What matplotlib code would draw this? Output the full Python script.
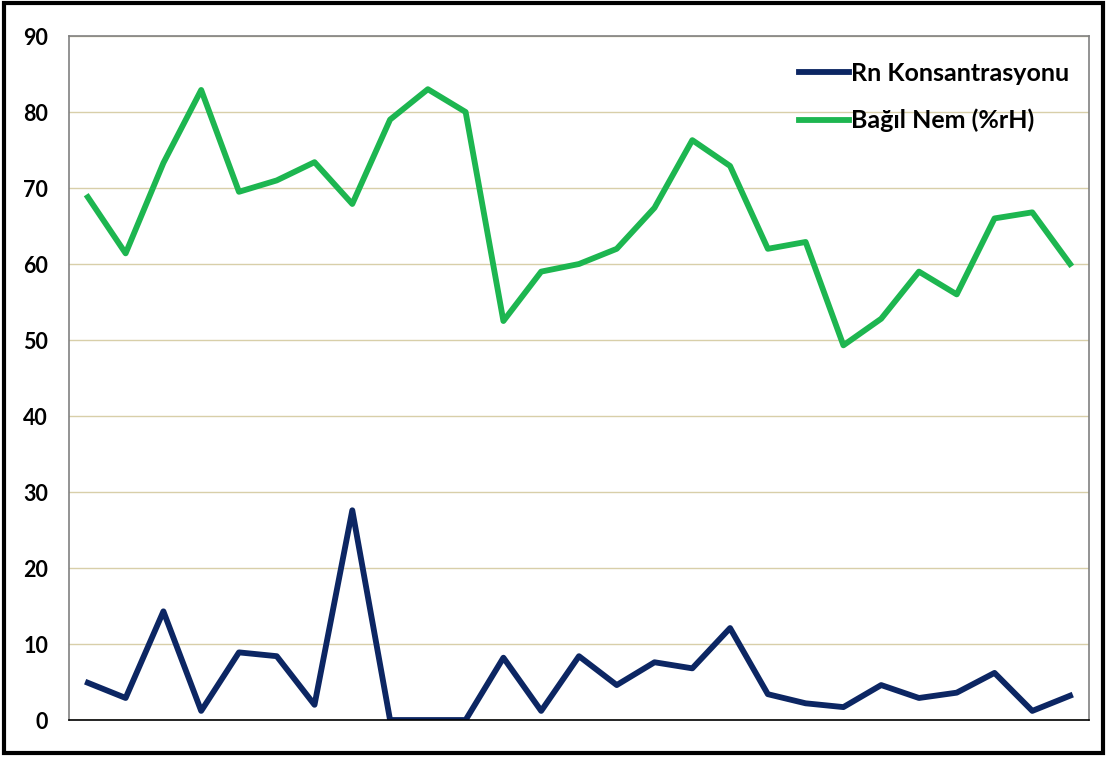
import numpy as np
from matplotlib import pyplot as plt
from matplotlib.patches import Rectangle

plt.rcParams['font.family'] = ['Lato', 'DejaVu Sans']

x = np.arange(27)
rn = [4.9, 2.9, 14.3, 1.2, 8.9, 8.4, 2.0, 27.6, 0.0, 0.0, 0.0, 8.2, 1.2, 8.4,
      4.6, 7.6, 6.8, 12.1, 3.4, 2.2, 1.7, 4.6, 2.9, 3.6, 6.2, 1.2, 3.2]
nem = [68.8, 61.4, 73.3, 82.9, 69.5, 71.0, 73.4, 67.9, 79.0, 83.0, 80.0, 52.5,
       59.0, 60.0, 62.0, 67.4, 76.3, 72.9, 62.0, 62.9, 49.3, 52.8, 59.0, 56.0,
       66.0, 66.8, 60.0]
yticks = [0, 10, 20, 30, 40, 50, 60, 70, 80, 90]

fig = plt.figure(figsize=(11.07, 7.58), dpi=100)
ax = fig.add_axes([0.0623, 0.0501, 0.9214, 0.9024])

ax.plot(x, rn, color='#0c2663', lw=4.2, label='Rn Konsantrasyonu', solid_joinstyle='round')
ax.plot(x, nem, color='#1db650', lw=4.2, label='Bağıl Nem (%rH)', solid_joinstyle='round')

ax.set_xlim(-0.5, 26.5)
ax.set_ylim(0, 90)
ax.set_yticks(yticks)
ax.set_xticks([])
ax.tick_params(axis='y', length=0, pad=15, labelsize=15.5)
for lab in ax.get_yticklabels():
    lab.set_fontweight('bold')
ax.grid(axis='y', color='#d8cfa9', lw=1)
ax.set_axisbelow(True)
for s in ['left', 'right', 'top']:
    ax.spines[s].set_color('#808080')
    ax.spines[s].set_linewidth(1.2)
ax.spines['bottom'].set_color('#000000')
ax.spines['bottom'].set_linewidth(1.2)

leg = ax.legend(loc='upper right', bbox_to_anchor=(1.003, 0.995), frameon=False,
                prop={'size': 18, 'weight': 'bold'}, handlelength=2.0,
                handletextpad=0.1, labelspacing=0.95)

fig.patches.append(Rectangle((0.004, 0.006), 0.992, 0.99, transform=fig.transFigure,
                             fill=False, edgecolor='black', lw=3))

fig.savefig('out.png', dpi=100)
